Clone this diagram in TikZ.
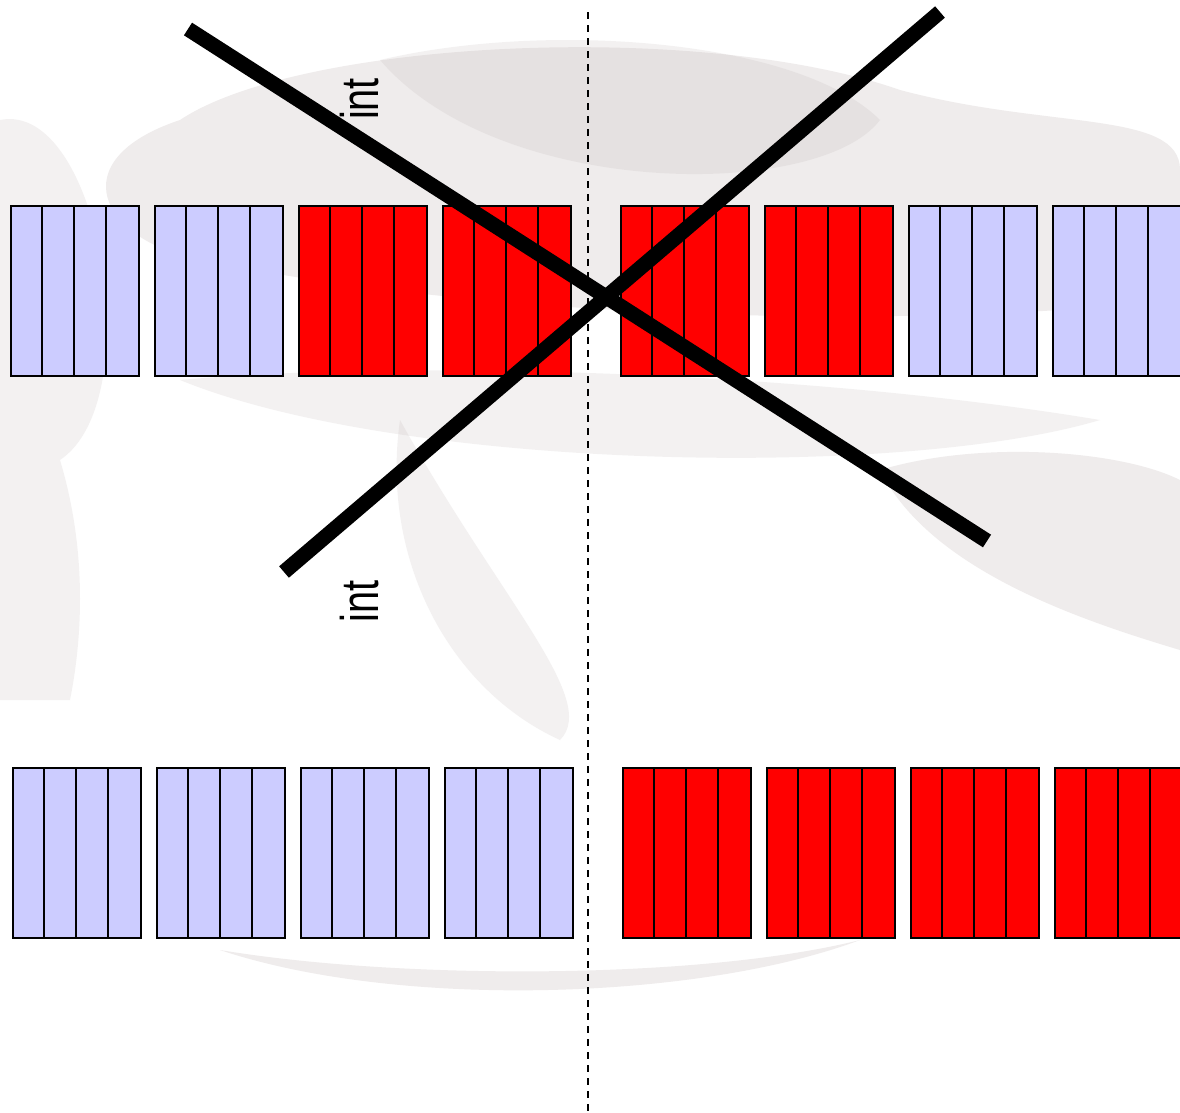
\documentclass[tikz,border=0pt]{standalone}
\usepackage{fontspec}
\setmainfont{Liberation Sans}
\usetikzlibrary{calc}
\definecolor{lav}{RGB}{204,204,255}
\definecolor{bgsketch}{RGB}{175,160,160}
\tikzset{
  block/.style={draw=black, line width=1.6pt, minimum width=128pt, minimum height=170pt, inner sep=0pt, anchor=north west},
  cellline/.style={draw=black, line width=1.6pt},
  cross/.style={line width=15pt, draw=black},
  divider/.style={line width=2.2pt, dash pattern=on 7pt off 6pt},
  lbl/.style={rotate=90, inner sep=0pt, font=\fontsize{53}{53}\selectfont}
}
\begin{document}
\begin{tikzpicture}[x=1pt,y=-1pt]
\useasboundingbox (0,0) rectangle (1180,1112);
\fill[white] (0,0) rectangle (1180,1112);
% faint background sketch
\begin{scope}[opacity=0.2]
\fill[bgsketch] (180,120) .. controls (300,40) and (700,20) .. (900,90) .. controls (1050,130) and (1180,110) .. (1180,170) -- (1180,300) .. controls (900,330) and (500,320) .. (200,260) .. controls (100,240) and (60,160) .. (180,120);
\fill[bgsketch] (880,470) .. controls (980,440) and (1120,450) .. (1180,480) -- (1180,650) .. controls (1080,620) and (930,570) .. (880,470);
\fill[bgsketch] (220,950) .. controls (400,980) and (700,980) .. (860,940) .. controls (700,1000) and (400,1010) .. (220,950);
\end{scope}
\begin{scope}[opacity=0.14]
\fill[bgsketch] (380,60) .. controls (550,20) and (800,40) .. (880,120) .. controls (820,200) and (500,200) .. (380,60);
\fill[bgsketch] (0,120) .. controls (100,100) and (150,400) .. (60,460) .. controls (90,560) and (80,650) .. (70,700) -- (0,700) -- cycle;
\fill[bgsketch] (180,380) .. controls (400,360) and (800,370) .. (1100,420) .. controls (900,480) and (400,470) .. (180,380);
\fill[bgsketch] (400,420) .. controls (500,600) and (600,700) .. (560,740) .. controls (450,690) and (380,560) .. (400,420);
\end{scope}
% top row
\foreach \i/\x/\c in {1/10/lav,2/154/lav,3/298/red,4/442/red,5/620/red,6/764/red,7/908/lav,8/1052/lav}{
  \node[block, fill=\c] (t\i) at (\x,205) {};
  \foreach \k in {1,2,3}{
    \draw[cellline] ($(t\i.north west)+(32*\k,0)$) -- ($(t\i.south west)+(32*\k,0)$);
  }
}
% bottom row
\foreach \i/\x/\c in {1/12/lav,2/156/lav,3/300/lav,4/444/lav,5/622/red,6/766/red,7/910/red,8/1054/red}{
  \node[block, fill=\c] (b\i) at (\x,767) {};
  \foreach \k in {1,2,3}{
    \draw[cellline] ($(b\i.north west)+(32*\k,0)$) -- ($(b\i.south west)+(32*\k,0)$);
  }
}
% divider
\coordinate (dtop) at (588,12);
\coordinate (dbot) at (588,1112);
\draw[divider] (dtop) -- (dbot);
% crossing lines
\coordinate (a1) at (188,29);
\coordinate (a2) at (987,541);
\coordinate (c1) at (284,572);
\coordinate (c2) at (940,12);
\draw[cross] (a1) -- (a2);
\draw[cross] (c1) -- (c2);
% labels
\node[lbl] (int1) at (359,99) {\scalebox{0.75}[1]{int}};
\node[lbl] (int2) at (359,601) {\scalebox{0.75}[1]{int}};
\end{tikzpicture}
\end{document}
